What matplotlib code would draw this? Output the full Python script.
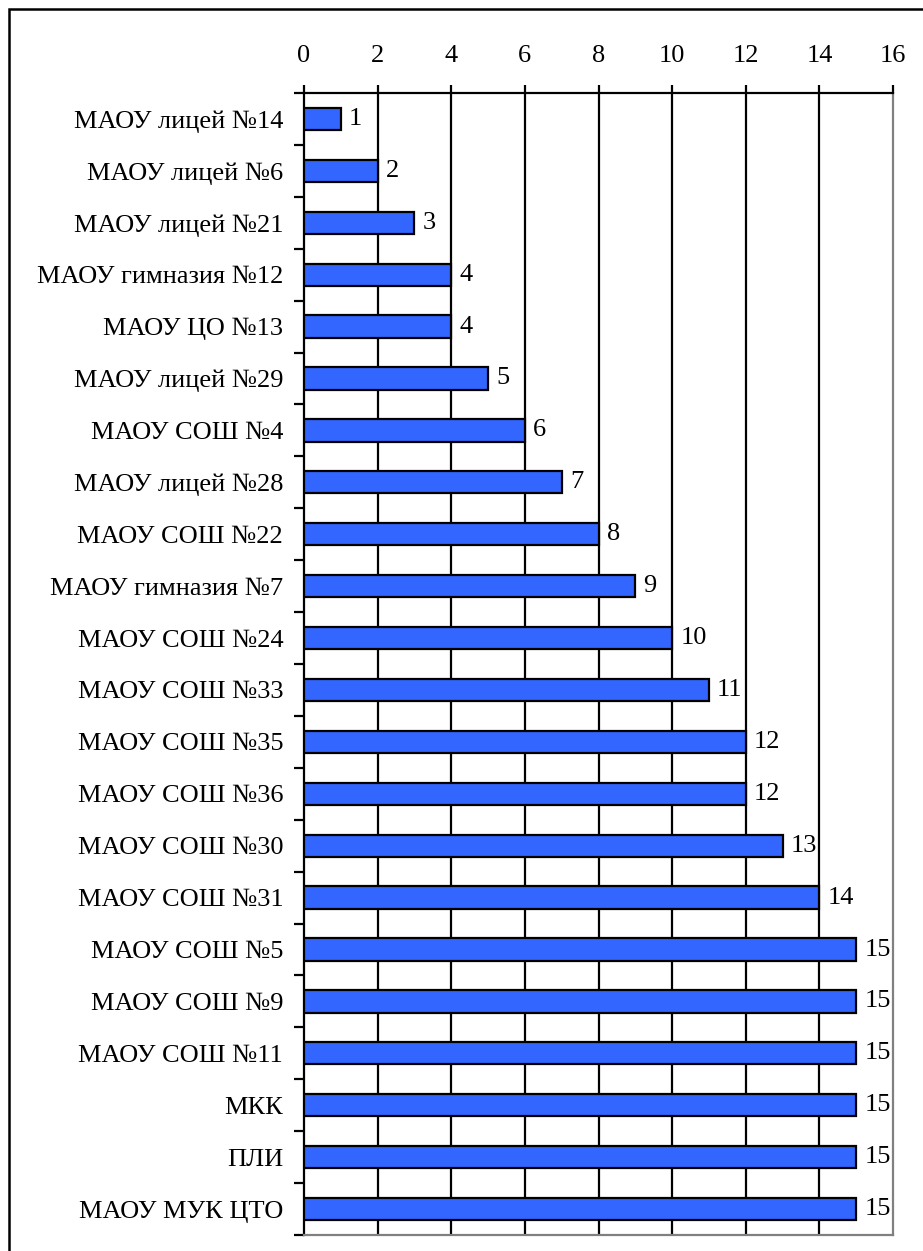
import matplotlib.pyplot as plt
from matplotlib.patches import Rectangle
import numpy as np

schools = [
    "МАОУ лицей №14", "МАОУ лицей №6", "МАОУ лицей №21", "МАОУ гимназия №12",
    "МАОУ ЦО №13", "МАОУ лицей №29", "МАОУ СОШ №4", "МАОУ лицей №28",
    "МАОУ СОШ №22", "МАОУ гимназия №7", "МАОУ СОШ №24", "МАОУ СОШ №33",
    "МАОУ СОШ №35", "МАОУ СОШ №36", "МАОУ СОШ №30", "МАОУ СОШ №31",
    "МАОУ СОШ №5", "МАОУ СОШ №9", "МАОУ СОШ №11", "МКК", "ПЛИ", "МАОУ МУК ЦТО",
]
places = [1, 2, 3, 4, 4, 5, 6, 7, 8, 9, 10, 11, 12, 12, 13, 14, 15, 15, 15, 15, 15, 15]
x_ticks = [0, 2, 4, 6, 8, 10, 12, 14, 16]

plt.rcParams["font.family"] = ["Liberation Serif", "DejaVu Serif"]
fs = 19

fig = plt.figure(figsize=(9.23, 12.51), dpi=100)
ax = fig.add_axes([304 / 923, 1 - 1235 / 1251, (893 - 304) / 923, (1235 - 93) / 1251])

y = np.arange(len(schools))
ax.barh(y, places, height=0.43, color="#3366FF", edgecolor="black", linewidth=1.6, zorder=3)
for yi, v in zip(y, places):
    ax.text(v + 0.22, yi, str(v), va="center", ha="left", fontsize=fs, zorder=4)

ax.set_xlim(0, 16)
ax.set_ylim(len(schools) - 0.5, -0.5)
ax.xaxis.tick_top()
ax.set_xticks(x_ticks)
ax.set_xticklabels([str(t) for t in x_ticks], fontsize=fs)
ax.tick_params(axis="x", direction="out", length=6, width=1.6, pad=13, colors="black")

ax.set_yticks(y)
ax.set_yticklabels(schools, fontsize=fs)
ax.set_yticks(np.arange(len(schools) + 1) - 0.5, minor=True)
ax.tick_params(axis="y", which="major", length=0, pad=15)
ax.tick_params(axis="y", which="minor", direction="out", length=7, width=1.6)

for t in x_ticks[1:-1]:
    ax.axvline(t, color="black", linewidth=1.6, zorder=1)

ax.spines["top"].set_linewidth(1.6)
ax.spines["left"].set_linewidth(1.6)
ax.spines["right"].set_color("#808080")
ax.spines["right"].set_linewidth(1.6)
ax.spines["bottom"].set_color("#808080")
ax.spines["bottom"].set_linewidth(1.6)

fig.patches.append(Rectangle((9 / 923, -0.05), 1.0, 1.05 - 9 / 1251, transform=fig.transFigure,
                             fill=False, edgecolor="black", linewidth=1.8))

fig.savefig("out.png", dpi=100)
